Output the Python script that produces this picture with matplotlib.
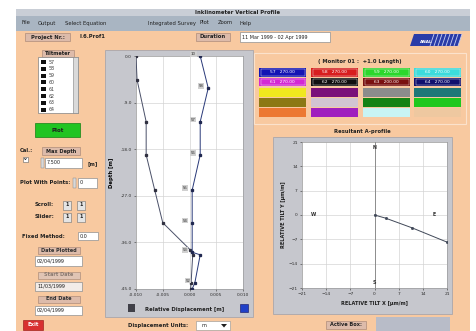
import matplotlib
matplotlib.use("Agg")
import matplotlib.pyplot as plt
from matplotlib.patches import Rectangle, Polygon

W, H = 476, 331

# vertical profile: depth [m] and relative displacement [m]
depth_first = [0.0, -4.6, -12.7, -19.1, -25.9, -32.2, -37.4, -38.4, -43.8, -45.0]
disp_first = [-0.0100, -0.0098, -0.0081, -0.0081, -0.0065, -0.0050, 0.0001, 0.0006, 0.0003, 0.0002]
depth_last = [0.0, -6.2, -12.7, -19.1, -25.9, -32.2, -37.9, -38.4, -43.8, -45.0]
disp_last = [0.0020, 0.0035, 0.0020, 0.0020, 0.0005, 0.0005, 0.0005, 0.0020, 0.0010, 0.0005]
point_tags = ["10", "58", "57", "56", "55", "54", "53", "", "52", ""]

depth_ticks = [0.0, -9.0, -18.0, -27.0, -36.0, -45.0]
disp_ticks = [-0.010, -0.005, 0.0, 0.005, 0.010]

# resultant tilt [um/m]
tilt_x = [0.0, 3.2, 10.9, 21.0]
tilt_y = [0.0, -0.9, -3.7, -7.8]
tilt_ticks = [-21, -14, -7, 0, 7, 14, 21]

# sensor legend
cell_colors = [
    ["#1414B4", "#D81E1E", "#2CD82C", "#3CDCDC"],
    ["#D428D4", "#101010", "#7A1010", "#10106E"],
    ["#F0E81E", "#7A107A", "#8C8C8C", "#1E7878"],
    ["#8C7814", "#D2C4D2", "#148214", "#1EC81E"],
    ["#EC7832", "#A01EBE", "#C8F4F4", "#EEC8A0"],
]
cell_labels = [
    ["57   270.00", "58   270.00", "59   270.00", "60   270.00"],
    ["61   270.00", "62   270.00", "63   200.00", "64   270.00"],
]
sensor_list = ["57", "58", "59", "60", "61", "62", "63", "64"]

ORANGE = "#F8C9A0"
PANEL = "#C6C7CD"
MENU = "#A9B5C2"
LABELBOX = "#DDBBAA"

fig = plt.figure(figsize=(W / 100, H / 100), dpi=100)
bg = fig.add_axes([0, 0, 1, 1], zorder=0)
bg.set_xlim(0, W)
bg.set_ylim(H, 0)
bg.axis("off")


def rect(x0, y0, x1, y1, fc, ec="none", lw=0.5, z=1):
    bg.add_patch(Rectangle((x0, y0), x1 - x0, y1 - y0, facecolor=fc,
                           edgecolor=ec, linewidth=lw, zorder=z))


def txt(x, y, s, size=4, color="#202020", ha="left", weight="bold", **kw):
    bg.text(x, y, s, fontsize=size, color=color, ha=ha, va="center",
            fontweight=weight, zorder=5, **kw)


def field(x0, y0, x1, y1, s="", fc="white"):
    rect(x0, y0, x1, y1, fc, ec="#909090", lw=0.5, z=2)
    if s:
        txt(x0 + 2, (y0 + y1) / 2, s, size=3.5, weight="normal")


def ax_at(x0, y0, x1, y1):
    return fig.add_axes([x0 / W, 1 - y1 / H, (x1 - x0) / W, (y1 - y0) / H], zorder=2)


# window frame
rect(0, 0, W, H, "white", z=0)
rect(16, 9, 470, H, ORANGE, z=0)
rect(16, 9, 470, 16, "#C9CED6", z=1)
rect(16, 16, 470, 31, MENU, z=1)
txt(238, 12.5, "Inklinometer Vertical Profile", size=3.8, ha="center")
for x, s in [(22, "File"), (38, "Output"), (65, "Select Equation"),
             (148, "Integrated Survey"), (200, "Plot"), (218, "Zoom"), (240, "Help")]:
    txt(x, 23, s, size=3.8, weight="normal")

# top row
rect(25, 33, 70, 41, LABELBOX, ec="#A08070", lw=0.4)
txt(47.5, 37, "Project Nr.:", size=3.8, ha="center")
txt(80, 37, "I.6.Prof1", size=3.8)
rect(196, 33, 230, 41, LABELBOX, ec="#A08070", lw=0.4)
txt(213, 37, "Duration", size=3.8, ha="center")
field(240, 32, 330, 42, "11 Mar 1999 - 02 Apr 1999")
bg.add_patch(Polygon([(414, 34), (462, 34), (458, 46), (410, 46)], closed=True,
                     facecolor="#2A3CA8", edgecolor="none", zorder=2))
for i in range(8):
    bg.plot([430 + i * 4, 434 + i * 4], [46, 34], color="#C8D0F0", lw=0.6, zorder=3)
txt(420, 42, "ANAL", size=3, color="white")

# left control column
rect(42, 50, 74, 57, LABELBOX, ec="#A08070", lw=0.4)
txt(58, 53.5, "Tiltmeter", size=3.6, ha="center")
rect(38, 57, 78, 113, "white", ec="#808080", lw=0.5)
rect(73, 57, 78, 113, "#DADADA", ec="#808080", lw=0.4)
for i, s in enumerate(sensor_list):
    y = 62 + i * 6.8
    rect(41, y - 2, 46, y + 2, "#101010", z=3)
    txt(49, y, s, size=3.4, weight="normal", color="#404040")
rect(35, 123, 80, 137, "#22C422", ec="#148014", lw=0.5)
txt(57.5, 130, "Plot", size=4, ha="center")

txt(20, 151, "Cal.:", size=3.8)
rect(42, 147, 80, 155, LABELBOX, ec="#A08070", lw=0.4)
txt(61, 151, "Max Depth", size=3.6, ha="center")
rect(23, 157, 28, 162, "white", ec="#606060", lw=0.4)
txt(25.5, 159.5, "v", size=3.2, ha="center")
field(45, 158, 82, 168, "7.500")
txt(87, 164, "[m]", size=3.8)
rect(41, 158, 44, 168, "#D8D8D8", ec="#808080", lw=0.3)

txt(20, 183, "Plot With Points:", size=3.8)
rect(73, 178, 76, 188, "#D8D8D8", ec="#808080", lw=0.3)
field(78, 178, 97, 188, "0")

for y, s in [(205, "Scroll:"), (217, "Slider:")]:
    txt(35, y, s, size=3.8)
    for xb in (63, 77):
        rect(xb, y - 4.5, xb + 8, y + 4.5, "#E4E4E4", ec="#707070", lw=0.4)
        txt(xb + 4, y, "1", size=3.4, ha="center")

txt(22, 236, "Fixed Method:", size=3.8)
field(78, 232, 98, 240, "0.0")

for y, s, fc in [(250, "Date Plotted", LABELBOX), (275, "Start Date", "#E0C4B4"),
                 (299, "End Date", LABELBOX)]:
    rect(38, y - 3.5, 80, y + 3.5, fc, ec="#A08070", lw=0.4)
    txt(59, y, s, size=3.6, ha="center", color="#303030" if fc == LABELBOX else "#8A7A70")
field(35, 256, 82, 266, "02/04/1999")
field(35, 282, 82, 291, "11/03/1999", fc="#F2ECE8")
field(35, 306, 82, 315, "02/04/1999")
rect(23, 320, 43, 330, "#D83030", ec="#901010", lw=0.4)
txt(33, 325, "Exit", size=3.8, ha="center", color="white")

# profile panel
rect(105, 50, 253, 317, PANEL, ec="#A0A0A8", lw=0.5)
rect(128, 304, 135, 312, "#404048", z=2)
rect(240, 304, 248, 312, "#2040C8", ec="#101060", lw=0.4, z=2)
txt(185, 310, "Relative Displacement [m]", size=3.8, ha="center")
txt(128, 326, "Displacement Units:", size=3.8)
rect(196, 321, 230, 330, "white", ec="#909090", lw=0.4)
txt(202, 325.5, "m", size=3.6, weight="normal")
bg.add_patch(Polygon([(221, 324), (227, 324), (224, 327.5)], closed=True,
                     facecolor="#202020", zorder=3))

# legend panel
rect(254, 53, 466, 124, "none", ec="#FBE2CC", lw=0.8)
txt(360, 62, "( Monitor 01 :  +1.0 Length)", size=3.8, ha="center")
col_x = [259, 311, 363, 414]
row_y = [68, 77.5, 88, 98, 108]
for r, row in enumerate(cell_colors):
    for c, color in enumerate(row):
        rect(col_x[c], row_y[r], col_x[c] + 47, row_y[r] + 8.5, color, z=2)
        if r < len(cell_labels):
            rect(col_x[c] + 1.5, row_y[r] + 1, col_x[c] + 45.5, row_y[r] + 7.5,
                 "none", ec="#E8E8E8", lw=0.3, z=3)
            txt(col_x[c] + 23.5, row_y[r] + 4.3, cell_labels[r][c], size=3.2,
                ha="center", color="white", weight="normal")
txt(362, 131, "Resultant A-profile", size=3.8, ha="center")

# tilt panel
rect(273, 137, 452, 314, PANEL, ec="#A0A0A8", lw=0.5)
txt(374, 303, "RELATIVE TILT X [\u00b5m/m]", size=3.6, ha="center")
bg.text(284, 215, "RELATIVE TILT Y [\u00b5m/m]", fontsize=3.6, fontweight="bold",
        rotation=90, ha="center", va="center", color="#202020", zorder=5)
rect(326, 321, 366, 329, LABELBOX, ec="#A08070", lw=0.4)
txt(346, 325, "Active Box:", size=3.6, ha="center")
rect(376, 317, 450, 331, "#B8BCC8", z=2)

# profile plot
ax = ax_at(136, 56, 243, 289)
ax.set_facecolor("white")
ax.plot(disp_first, depth_first, color="#4A5068", lw=0.7, marker="s", ms=1.4,
        mfc="#303040", mec="#303040", zorder=3)
ax.plot(disp_last, depth_last, color="#283878", lw=0.7, marker="s", ms=1.4,
        mfc="#202850", mec="#202850", zorder=4)
for xv, yv, tag in zip(disp_last, depth_last, point_tags):
    if tag:
        ax.annotate(tag, (xv, yv), xytext=(-5, 1.5), textcoords="offset points",
                    fontsize=2.8, ha="center", va="center", color="#303030",
                    bbox=dict(boxstyle="square,pad=0.2", fc="#D0D0D0", ec="none"))
ax.set_xlim(disp_ticks[0], disp_ticks[-1])
ax.set_ylim(depth_ticks[-1], depth_ticks[0])
ax.set_xticks(disp_ticks)
ax.set_xticklabels([f"{v:.3f}" for v in disp_ticks])
ax.set_yticks(depth_ticks)
ax.set_yticklabels([f"{v:.1f}" for v in depth_ticks])
ax.tick_params(labelsize=3.2, length=1.5, width=0.4, pad=1.5, colors="#303030")
ax.grid(color="#D4D4D4", lw=0.5)
for s in ax.spines.values():
    s.set_color("#909090")
    s.set_linewidth(0.4)
ax.set_ylabel("Depth [m]", fontsize=3.8, fontweight="bold", labelpad=5)

# resultant tilt plot
ax2 = ax_at(302, 142, 447, 288)
ax2.set_facecolor("white")
ax2.axvline(0, color="#808080", lw=0.6, zorder=2)
ax2.plot(tilt_x, tilt_y, color="#404858", lw=0.7, marker="s", ms=1.0, zorder=3)
for xv, yv, s in [(0, 19.5, "N"), (0, -19.5, "S"), (-17.6, 0, "W"), (17.3, 0, "E")]:
    ax2.text(xv, yv, s, fontsize=3.4, fontweight="bold", ha="center", va="center",
             color="#303030", zorder=4)
ax2.set_xlim(tilt_ticks[0], tilt_ticks[-1])
ax2.set_ylim(tilt_ticks[0], tilt_ticks[-1])
ax2.set_xticks(tilt_ticks)
ax2.set_yticks(tilt_ticks)
ax2.tick_params(labelsize=3.2, length=1.5, width=0.4, pad=1.5, colors="#303030")
ax2.grid(color="#D4D4D4", lw=0.5)
for s in ax2.spines.values():
    s.set_color("#909090")
    s.set_linewidth(0.4)

fig.savefig("out.png", dpi=100)
